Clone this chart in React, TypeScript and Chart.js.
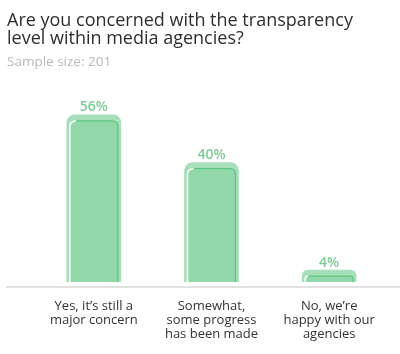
import React, { useEffect, useRef } from "react";
import { Chart, registerables } from "chart.js";

Chart.register(...registerables);

const titleLines = ["Are you concerned with the transparency", "level within media agencies?"];
const subtitleText = "Sample size: 201";
const categories = [
  ["Yes, it\u2019s still a", "major concern"],
  ["Somewhat,", "some progress", "has been made"],
  ["No, we\u2019re", "happy with our", "agencies"],
];
const values = [56, 40, 4];
const valueSuffix = "%";

const FONT = '"Open Sans", "Noto Sans", sans-serif';

export default function App() {
  const ref = useRef<HTMLCanvasElement | null>(null);

  useEffect(() => {
    if (!ref.current) return;

    const innerBars = {
      id: "innerBars",
      afterDatasetsDraw(chart: any) {
        const ctx = chart.ctx;
        const meta = chart.getDatasetMeta(0);
        meta.data.forEach((bar: any, i: number) => {
          const p = bar.getProps(["x", "y", "base", "width"], true);
          const l = p.x - p.width / 2 + 3;
          const r = p.x + p.width / 2 - 3;
          const t = p.y + 6;
          const b = p.base;
          const rad = Math.min(6, (b - t) / 2);
          ctx.save();
          ctx.beginPath();
          ctx.moveTo(l, b);
          ctx.lineTo(l, t + rad);
          ctx.quadraticCurveTo(l, t, l + rad, t);
          ctx.lineTo(r - rad, t);
          ctx.quadraticCurveTo(r, t, r, t + rad);
          ctx.lineTo(r, b);
          ctx.closePath();
          ctx.fillStyle = "#93d8aa";
          ctx.fill();
          ctx.beginPath();
          ctx.moveTo(l + rad, t);
          ctx.lineTo(r - rad, t);
          ctx.quadraticCurveTo(r, t, r, t + rad);
          ctx.lineTo(r, b);
          ctx.strokeStyle = "#5fc582";
          ctx.lineWidth = 1.3;
          ctx.stroke();
          ctx.beginPath();
          ctx.moveTo(l + rad, t);
          ctx.quadraticCurveTo(l, t, l, t + rad);
          ctx.lineTo(l, b);
          ctx.strokeStyle = "#ffffff";
          ctx.lineWidth = 1.5;
          ctx.stroke();
          ctx.fillStyle = "#7ccd93";
          ctx.font = `600 14px ${FONT}`;
          ctx.textAlign = "center";
          ctx.textBaseline = "bottom";
          ctx.fillText(`${values[i]}${valueSuffix}`, p.x, p.y - 0.5);
          ctx.restore();
        });
      },
    };

    const baseline = {
      id: "baseline",
      afterDraw(chart: any) {
        const ctx = chart.ctx;
        const y = chart.scales.y.getPixelForValue(0) + 5;
        ctx.save();
        ctx.strokeStyle = "#e1e1e1";
        ctx.lineWidth = 2;
        ctx.beginPath();
        ctx.moveTo(6, y);
        ctx.lineTo(chart.width, y);
        ctx.stroke();
        ctx.restore();
      },
    };

    const chart = new Chart(ref.current, {
      type: "bar",
      data: {
        labels: categories as any,
        datasets: [
          {
            data: values,
            backgroundColor: "#a6dfba",
            borderWidth: 0,
            borderRadius: { topLeft: 8, topRight: 8, bottomLeft: 0, bottomRight: 0 },
            borderSkipped: "bottom",
            barThickness: 54,
          },
        ],
      },
      options: {
        responsive: false,
        animation: false,
        layout: { padding: { left: 7, right: 12, top: 11, bottom: 0 } },
        plugins: {
          legend: { display: false },
          tooltip: { enabled: false },
          title: {
            display: true,
            text: titleLines,
            align: "start",
            color: "#2e2e2e",
            font: { family: FONT, size: 18, weight: "normal", lineHeight: 1.05 },
            padding: { top: 0, bottom: 5 },
          },
          subtitle: {
            display: true,
            text: subtitleText,
            align: "start",
            color: "#b9b9b9",
            font: { family: FONT, size: 13.5, weight: "normal" },
            padding: { top: 0, bottom: 33 },
          },
        },
        scales: {
          x: {
            grid: { display: false },
            border: { display: false },
            ticks: {
              color: "#333333",
              font: { family: FONT, size: 13, lineHeight: 1.1 },
              padding: 9,
              maxRotation: 0,
              autoSkip: false,
            },
            afterFit: (s: any) => {
              s.height = 72;
            },
          },
          y: {
            min: 0,
            max: 60,
            grid: { display: false },
            border: { display: false },
            ticks: { display: false },
            afterFit: (s: any) => {
              s.width = 28;
            },
          },
        },
      },
      plugins: [innerBars, baseline],
    });
    return () => chart.destroy();
  }, []);

  return (
    <div style={{ position: "fixed", left: 0, top: 0, width: 400, height: 354, background: "#fff" }}>
      <canvas ref={ref} width={400} height={354} />
    </div>
  );
}
